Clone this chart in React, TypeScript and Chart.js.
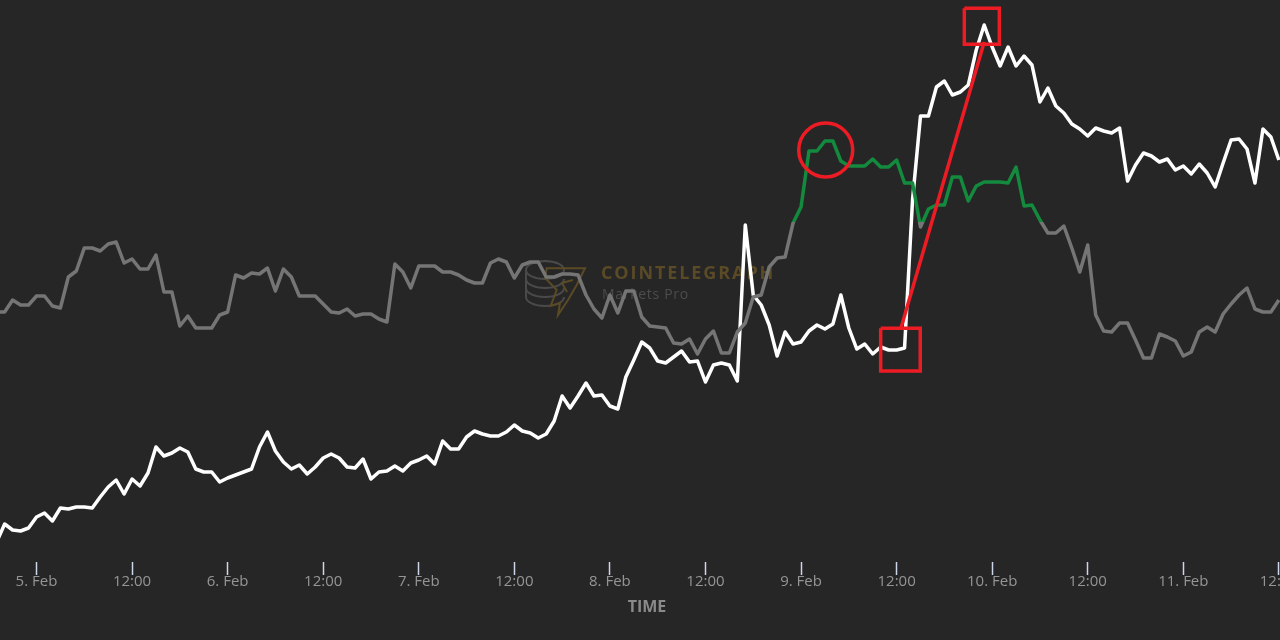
import { useEffect, useRef } from "react";
import Chart from "chart.js/auto";

// first sample sits at this many hours after 5 Feb 00:00, one sample per hour
const firstHour = -5;

const priceValues = [
  20, 38, 32, 31, 34, 45, 49, 41, 54, 53, 55, 55, 54, 65, 75, 82, 68, 83, 76, 89,
  115, 106, 109, 114, 110, 93, 90, 90, 80, 84, 87, 90, 93, 115, 130, 111, 100, 93, 97, 88,
  95, 104, 108, 104, 95, 94, 103, 83, 90, 91, 96, 91, 99, 102, 106, 98, 121, 113, 113, 125,
  131, 128, 126, 126, 130, 137, 131, 129, 124, 128, 141, 166, 154, 166, 179, 166, 167, 156, 153, 185,
  202, 220, 214, 201, 199, 205, 211, 200, 201, 180, 197, 199, 197, 181, 337, 267, 257, 237, 206, 230,
  218, 220, 231, 237, 233, 238, 267, 234, 213, 218, 208, 215, 212, 212, 214, 362, 446, 446, 475, 481,
  467, 470, 477, 512, 537, 515, 496, 515, 496, 506, 497, 460, 474, 456, 449, 438, 433, 426, 434, 431,
  429, 434, 381, 397, 409, 406, 400, 403, 392, 396, 388, 398, 389, 375, 399, 422, 423, 413, 379, 433,
  425, 402,
];

const sentimentValues = [
  250, 250, 262, 257, 257, 266, 266, 256, 254, 285, 291, 314, 314, 311, 318, 320, 299, 303, 293, 293,
  307, 270, 270, 236, 246, 234, 234, 234, 247, 250, 287, 284, 289, 288, 294, 271, 293, 285, 266, 266,
  266, 258, 250, 249, 253, 246, 248, 248, 243, 240, 298, 290, 274, 296, 296, 296, 290, 290, 287, 282,
  279, 279, 299, 303, 300, 284, 297, 300, 300, 285, 285, 288, 288, 287, 267, 253, 244, 267, 249, 271,
  271, 245, 236, 235, 234, 219, 218, 223, 208, 223, 231, 209, 209, 230, 239, 265, 267, 295, 304, 305,
  339, 355, 411, 411, 421, 421, 401, 396, 396, 396, 403, 395, 395, 402, 379, 379, 335, 353, 357, 357,
  385, 385, 361, 376, 380, 380, 380, 379, 395, 356, 357, 342, 329, 329, 336, 314, 290, 317, 247, 231,
  230, 239, 239, 222, 204, 204, 228, 225, 221, 206, 210, 230, 235, 230, 248, 258, 267, 274, 253, 250,
  250, 262,
];

const dayLabels = ["5. Feb", "6. Feb", "7. Feb", "8. Feb", "9. Feb", "10. Feb", "11. Feb"];
const noonLabel = "12:00";

// above this level the sentiment line turns green
const sentimentThreshold = 339.5;

// red markup on the chart, in the same hour / value units as the series
const markupLine = [
  { x: 108.55, y: 234 },
  { x: 119, y: 520 },
];
const markupBoxLow = [
  { x: 106, y: 233.7 },
  { x: 110.97, y: 233.7 },
  { x: 110.97, y: 191 },
  { x: 106, y: 191 },
  { x: 106, y: 233.7 },
];
const markupBoxHigh = [
  { x: 116.5, y: 553.7 },
  { x: 120.9, y: 553.7 },
  { x: 120.9, y: 517.7 },
  { x: 116.5, y: 517.7 },
  { x: 116.5, y: 553.7 },
];
const markupCircle = [{ x: 99.1, y: 412 }];

const pricePoints = priceValues.map((y, i) => ({ x: firstHour + i, y }));
const sentimentPoints = sentimentValues.map((y, i) => ({ x: firstHour + i, y }));

const RED = "#ed1c24";
const GREEN = "#138a3e";
const GREY = "#757575";

const watermark = {
  id: "watermark",
  beforeDatasetsDraw(chart: Chart) {
    const { ctx } = chart;
    ctx.save();

    // coin stack
    ctx.strokeStyle = "#4a4a4a";
    ctx.lineWidth = 2;
    ctx.beginPath();
    ctx.ellipse(545, 270, 19, 9, 0, 0, Math.PI * 2);
    ctx.stroke();
    [279, 288, 297].forEach((y) => {
      ctx.beginPath();
      ctx.ellipse(545, y, 19, 9, 0, 0, Math.PI);
      ctx.stroke();
    });
    ctx.beginPath();
    ctx.moveTo(526, 270);
    ctx.lineTo(526, 297);
    ctx.stroke();

    // bolt
    ctx.strokeStyle = "#5a4a26";
    ctx.beginPath();
    ctx.moveTo(546.7, 268.3);
    ctx.lineTo(585, 268.3);
    ctx.lineTo(576.7, 285);
    ctx.lineTo(568, 300);
    ctx.lineTo(558, 315);
    ctx.lineTo(560, 303);
    ctx.lineTo(550.7, 306);
    ctx.lineTo(556.7, 290);
    ctx.lineTo(545, 278);
    ctx.closePath();
    ctx.moveTo(573, 280);
    ctx.lineTo(562, 283);
    ctx.lineTo(567, 292);
    ctx.stroke();

    ctx.textBaseline = "middle";
    ctx.textAlign = "left";
    ctx.fillStyle = "#5a4a26";
    ctx.font = "bold 18px 'Open Sans'";
    ctx.letterSpacing = "1.9px";
    ctx.fillText("COINTELEGRAPH", 601, 274);
    ctx.fillStyle = "#4c4c4c";
    ctx.font = "14px 'Open Sans'";
    ctx.letterSpacing = "0.7px";
    ctx.fillText("Markets Pro", 602, 295);
    ctx.restore();
  },
};

export default function App() {
  const canvasRef = useRef<HTMLCanvasElement | null>(null);

  useEffect(() => {
    document.body.style.margin = "0";
    if (!canvasRef.current) {
      return;
    }

    const chart = new Chart(canvasRef.current, {
      type: "scatter",
      plugins: [watermark],
      data: {
        datasets: [
          {
            label: "Price",
            data: pricePoints,
            showLine: true,
            borderColor: "#ffffff",
            borderWidth: 3.5,
            borderJoinStyle: "round",
            pointRadius: 0,
            order: 3,
          },
          {
            label: "Sentiment",
            data: sentimentPoints,
            showLine: true,
            borderColor: (context: any) => {
              const { chartArea, scales, ctx } = context.chart;
              if (!chartArea) {
                return GREY;
              }
              const stop =
                (scales.y.getPixelForValue(sentimentThreshold) - chartArea.top) /
                (chartArea.bottom - chartArea.top);
              const gradient = ctx.createLinearGradient(0, chartArea.top, 0, chartArea.bottom);
              gradient.addColorStop(0, GREEN);
              gradient.addColorStop(stop, GREEN);
              gradient.addColorStop(stop, GREY);
              gradient.addColorStop(1, GREY);
              return gradient;
            },
            borderWidth: 3.5,
            borderJoinStyle: "round",
            pointRadius: 0,
            order: 2,
          },
          ...[markupLine, markupBoxLow, markupBoxHigh].map((points) => ({
            data: points,
            showLine: true,
            borderColor: RED,
            borderWidth: 3.5,
            pointRadius: 0,
            order: 1,
          })),
          {
            data: markupCircle,
            pointStyle: "circle",
            pointRadius: 27,
            pointBorderWidth: 3.5,
            pointBorderColor: RED,
            pointBackgroundColor: "transparent",
            order: 1,
          },
        ],
      },
      options: {
        animation: false,
        responsive: false,
        layout: { padding: 0, autoPadding: false },
        plugins: {
          legend: { display: false },
          tooltip: { enabled: false },
        },
        scales: {
          x: {
            type: "linear",
            min: -4.583,
            max: 157.9,
            afterFit: (scale: any) => {
              scale.height = 78;
              scale.paddingLeft = 0;
              scale.paddingRight = 0;
            },
            grid: {
              drawOnChartArea: false,
              tickLength: 13,
              tickColor: "#ccd6eb",
              tickWidth: 1.5,
            },
            border: { display: false },
            ticks: {
              stepSize: 12,
              includeBounds: false,
              autoSkip: false,
              maxRotation: 0,
              padding: -2,
              color: "#959595",
              font: { family: "'Open Sans'", size: 15 },
              callback: (value: string | number) =>
                Number(value) % 24 === 0 ? dayLabels[Number(value) / 24] : noonLabel,
            },
            title: {
              display: true,
              text: "TIME",
              color: "#8a8a8a",
              font: { family: "'Open Sans'", size: 16, weight: "bold" },
              padding: { top: 0, bottom: 23 },
            },
          },
          y: {
            display: false,
            min: 0,
            max: 562,
          },
        },
      },
    });

    return () => {
      chart.destroy();
    };
  }, []);

  return (
    <div style={{ width: 1280, height: 640, overflow: "hidden", background: "#262626" }}>
      <canvas ref={canvasRef} width={1294} height={640} style={{ display: "block" }} />
    </div>
  );
}
